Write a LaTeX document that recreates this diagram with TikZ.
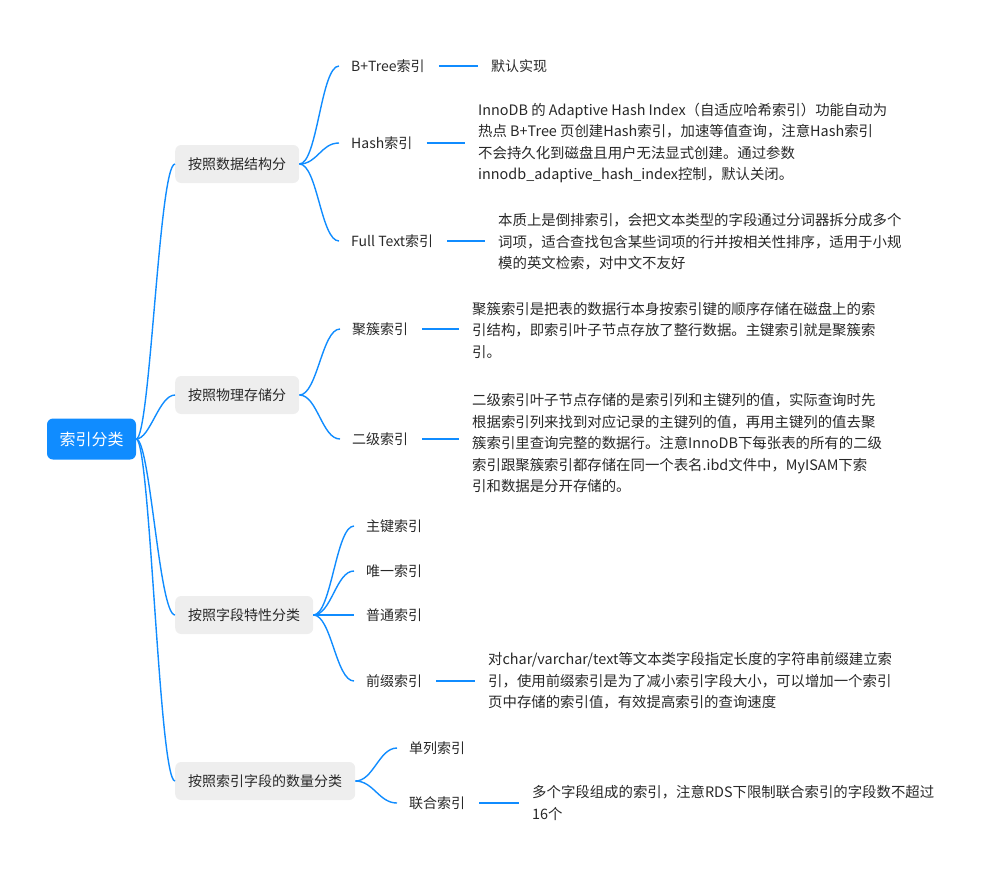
\documentclass[tikz,border=0pt]{standalone}
\usepackage{fontspec}
\setmainfont{Noto Sans CJK SC}
\definecolor{mapblue}{RGB}{16,140,255}
\definecolor{boxgray}{RGB}{238,238,238}
\definecolor{txt}{RGB}{40,40,40}

\tikzset{
  rootnode/.style={fill=mapblue, text=white, rounded corners=6pt, minimum height=41pt, inner xsep=12.5pt, font=\fontsize{16}{16}\selectfont},
  groupnode/.style={fill=boxgray, text=txt, rounded corners=6pt, minimum height=38pt, inner xsep=13pt, font=\fontsize{14}{14}\selectfont},
  kindnode/.style={anchor=west, inner sep=0pt, text=txt, font=\fontsize{14}{14}\selectfont},
  notenode/.style={anchor=west, inner sep=0pt, text=txt, align=left, font=\fontsize{14.4}{21.5}\selectfont},
  branch/.style={draw=mapblue, line width=1.4pt},
  tick/.style={draw=mapblue, line width=1.4pt},
}

\begin{document}
\begin{tikzpicture}[x=1pt, y=-1pt]
\useasboundingbox (0,0) rectangle (1000,879);

% root
\node[rootnode] (root) at (91.5,439) {索引分类};

% groups
\node[groupnode, anchor=west] (g1) at (175,164) {按照数据结构分};
\node[groupnode, anchor=west] (g2) at (175,395) {按照物理存储分};
\node[groupnode, anchor=west] (g3) at (175,615) {按照字段特性分类};
\node[groupnode, anchor=west] (g4) at (175,781) {按照索引字段的数量分类};

\foreach \g in {g1,g2,g3,g4}
  \draw[branch] (root.east) .. controls +(14,0) and +(-16,0) .. (\g.west);

% kinds
\node[kindnode] (btree) at (351,66) {B+Tree索引};
\node[kindnode] (hash) at (351,143) {Hash索引};
\node[kindnode] (full) at (351,241) {Full Text索引};
\node[kindnode] (clus) at (352,329) {聚簇索引};
\node[kindnode] (sec) at (352,439) {二级索引};
\node[kindnode] (pk) at (366,526) {主键索引};
\node[kindnode] (uniq) at (366,571) {唯一索引};
\node[kindnode] (norm) at (366,615) {普通索引};
\node[kindnode] (pref) at (366,681) {前缀索引};
\node[kindnode] (single) at (409,748) {单列索引};
\node[kindnode] (multi) at (409,803) {联合索引};

\foreach \g/\k in {g1/btree,g1/hash,g1/full,g2/clus,g2/sec,g3/pk,g3/uniq,g3/norm,g3/pref,g4/single,g4/multi}
  \draw[branch] (\g.east) .. controls +(18,0) and +(-18,0) .. ([xshift=-12pt]\k.west);

% notes
\node[kindnode] (n1) at (491,66) {默认实现};
\node[notenode] (n2) at (478,143) {InnoDB 的 Adaptive Hash Index（自适应哈希索引）功能自动为\\热点 B+Tree 页创建Hash索引，加速等值查询，注意Hash索引\\不会持久化到磁盘且用户无法显式创建。通过参数\\innodb\_adaptive\_hash\_index控制，默认关闭。};
\node[notenode] (n3) at (498,242) {本质上是倒排索引，会把文本类型的字段通过分词器拆分成多个\\词项，适合查找包含某些词项的行并按相关性排序，适用于小规\\模的英文检索，对中文不友好};
\node[notenode] (n4) at (472,330) {聚簇索引是把表的数据行本身按索引键的顺序存储在磁盘上的索\\引结构，即索引叶子节点存放了整行数据。主键索引就是聚簇索\\引。};
\node[notenode] (n5) at (472,443) {二级索引叶子节点存储的是索引列和主键列的值，实际查询时先\\根据索引列来找到对应记录的主键列的值，再用主键列的值去聚\\簇索引里查询完整的数据行。注意InnoDB下每张表的所有的二级\\索引跟聚簇索引都存储在同一个表名.ibd文件中，MyISAM下索\\引和数据是分开存储的。};
\node[notenode] (n6) at (488,681) {对char/varchar/text等文本类字段指定长度的字符串前缀建立索\\引，使用前缀索引是为了减小索引字段大小，可以增加一个索引\\页中存储的索引值，有效提高索引的查询速度};
\node[notenode] (n7) at (532,803) {多个字段组成的索引，注意RDS下限制联合索引的字段数不超过\\16个};

\foreach \k/\n in {btree/n1,hash/n2,full/n3,clus/n4,sec/n5,pref/n6,multi/n7}
  \draw[tick] ([xshift=14pt]\k.east) -- ([xshift=-13pt]\k.east -| \n.west);

\end{tikzpicture}
\end{document}
